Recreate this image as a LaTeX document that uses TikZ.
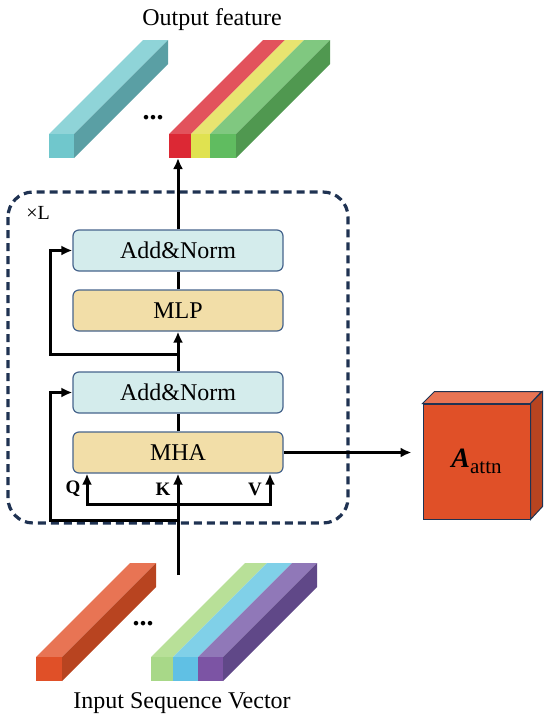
\documentclass[tikz,border=0pt]{standalone}
\usepackage{fontspec}
\setmainfont{Liberation Serif}
\usepackage{xcolor}
\usetikzlibrary{arrows.meta}
\definecolor{frame}{RGB}{31,50,82}
\definecolor{boxline}{RGB}{70,100,140}
\definecolor{norm}{RGB}{212,236,236}
\definecolor{layer}{RGB}{242,222,168}
\definecolor{cyanfront}{RGB}{112,199,204}
\definecolor{cyantop}{RGB}{143,212,216}
\definecolor{cyanside}{RGB}{90,159,164}
\definecolor{redfront}{RGB}{220,40,52}
\definecolor{redtop}{RGB}{226,82,92}
\definecolor{yellowfront}{RGB}{224,226,80}
\definecolor{yellowtop}{RGB}{232,228,112}
\definecolor{greenfront}{RGB}{96,188,96}
\definecolor{greentop}{RGB}{128,200,128}
\definecolor{greenside}{RGB}{80,152,80}
\definecolor{orangefront}{RGB}{224,80,40}
\definecolor{orangetop}{RGB}{232,116,84}
\definecolor{orangeside}{RGB}{184,68,32}
\definecolor{limefront}{RGB}{168,216,136}
\definecolor{limetop}{RGB}{184,224,152}
\definecolor{bluefront}{RGB}{96,192,228}
\definecolor{bluetop}{RGB}{128,208,232}
\definecolor{purplefront}{RGB}{124,84,164}
\definecolor{purpletop}{RGB}{144,120,184}
\definecolor{purpleside}{RGB}{96,72,136}
\newcommand{\bigtext}{\fontsize{24}{28}\selectfont}
\newcommand{\slab}[5]{%
  \fill[#5] (#1,#3) -- ++(94,-94) -- ++(#2-#1,0) -- (#2,#3) -- cycle;
  \fill[#4] (#1,#3) rectangle (#2,#3+24);}
\newcommand{\slabside}[3]{%
  \fill[#3] (#1,#2) -- ++(94,-94) -- ++(0,24) -- (#1,#2+24) -- cycle;}
\tikzstyle{block}=[draw=boxline, line width=1.2pt, rounded corners=6pt, minimum width=210pt, minimum height=41pt, inner sep=0pt, font=\bigtext]
\tikzstyle{arrow}=[-{Latex[length=11pt,width=10pt]}, line width=3pt]
\tikzstyle{line}=[line width=3pt]

\begin{document}
\begin{tikzpicture}[x=1pt,y=-1pt]
  \useasboundingbox (0,0) rectangle (550,723);

  %% Output feature
  \node[font=\bigtext] (outlabel) at (212,20) {Output feature};
  \slab{49}{74}{134}{cyanfront}{cyantop}
  \slabside{74}{134}{cyanside}
  \node[font=\fontsize{28}{30}\selectfont] (outdots) at (153,118) {\textbf{...}};
  \slab{169}{191}{134}{redfront}{redtop}
  \slab{191}{210}{134}{yellowfront}{yellowtop}
  \slab{210}{236}{134}{greenfront}{greentop}
  \slabside{236}{134}{greenside}
  \coordinate (out) at (178,158);

  %% Encoder layer
  \draw[frame, line width=3.2pt, dash pattern=on 8pt off 5pt, rounded corners=25pt] (8,192) rectangle (348,523);
  \node[font=\fontsize{20}{22}\selectfont] (times) at (38,213) {×L};

  \node[block, fill=norm] (an2) at (178,250.5) {Add\&Norm};
  \node[block, fill=layer] (mlp) at (178,310.5) {MLP};
  \node[block, fill=norm] (an1) at (178,392.5) {Add\&Norm};
  \node[block, fill=layer] (mha) at (178,452.5) {MHA};

  \coordinate (split2) at (178,354);
  \coordinate (qkv) at (178,504);
  \coordinate (split1) at (178,520);
  \coordinate (in) at (178,575);

  \draw[arrow] (an2.north) -- (out);
  \draw[line] (mlp.north) -- (an2.south);
  \draw[arrow] (an1.north) -- (mlp.south);
  \draw[line] (mha.north) -- (an1.south);
  \draw[arrow] (split2) -- ++(-128,0) |- (an2.west);
  \draw[arrow] (split1) -- ++(-128,0) |- (an1.west);
  \draw[arrow] (in) -- (mha.south);
  \draw[arrow] (qkv) -| ([xshift=-91pt]mha.south);
  \draw[arrow] (qkv) -| ([xshift=92pt]mha.south);

  \node[font=\fontsize{19}{20}\selectfont\bfseries] (q) at (73,489) {Q};
  \node[font=\fontsize{19}{20}\selectfont\bfseries] (k) at (163,489) {K};
  \node[font=\fontsize{19}{20}\selectfont\bfseries] (v) at (255,489) {V};

  %% Attention map
  \node[draw=frame, line width=1pt, fill=orangefront, minimum width=107pt, minimum height=115pt, inner sep=0pt, font=\fontsize{28}{30}\selectfont] (attn) at (476.5,461.5) {{\bfseries\itshape A}\raisebox{-6pt}{\fontsize{21}{22}\selectfont attn}};
  \draw[frame, line width=1pt, fill=orangetop] (attn.north west) -- ++(12,-12) -- ++(107,0) -- (attn.north east) -- cycle;
  \draw[frame, line width=1pt, fill=orangeside] (attn.north east) -- ++(12,-12) -- ++(0,115) -- (attn.south east) -- cycle;
  \draw[arrow, shorten >=11pt] (mha.east) -- (attn.west |- mha.east);

  %% Input sequence
  \slab{36}{62}{657}{orangefront}{orangetop}
  \slabside{62}{657}{orangeside}
  \node[font=\fontsize{28}{30}\selectfont] (indots) at (143,624) {\textbf{...}};
  \slab{151}{173}{657}{limefront}{limetop}
  \slab{173}{198}{657}{bluefront}{bluetop}
  \slab{198}{223}{657}{purplefront}{purpletop}
  \slabside{223}{657}{purpleside}
  \node[font=\bigtext] (inlabel) at (182,703) {Input Sequence Vector};
\end{tikzpicture}
\end{document}
